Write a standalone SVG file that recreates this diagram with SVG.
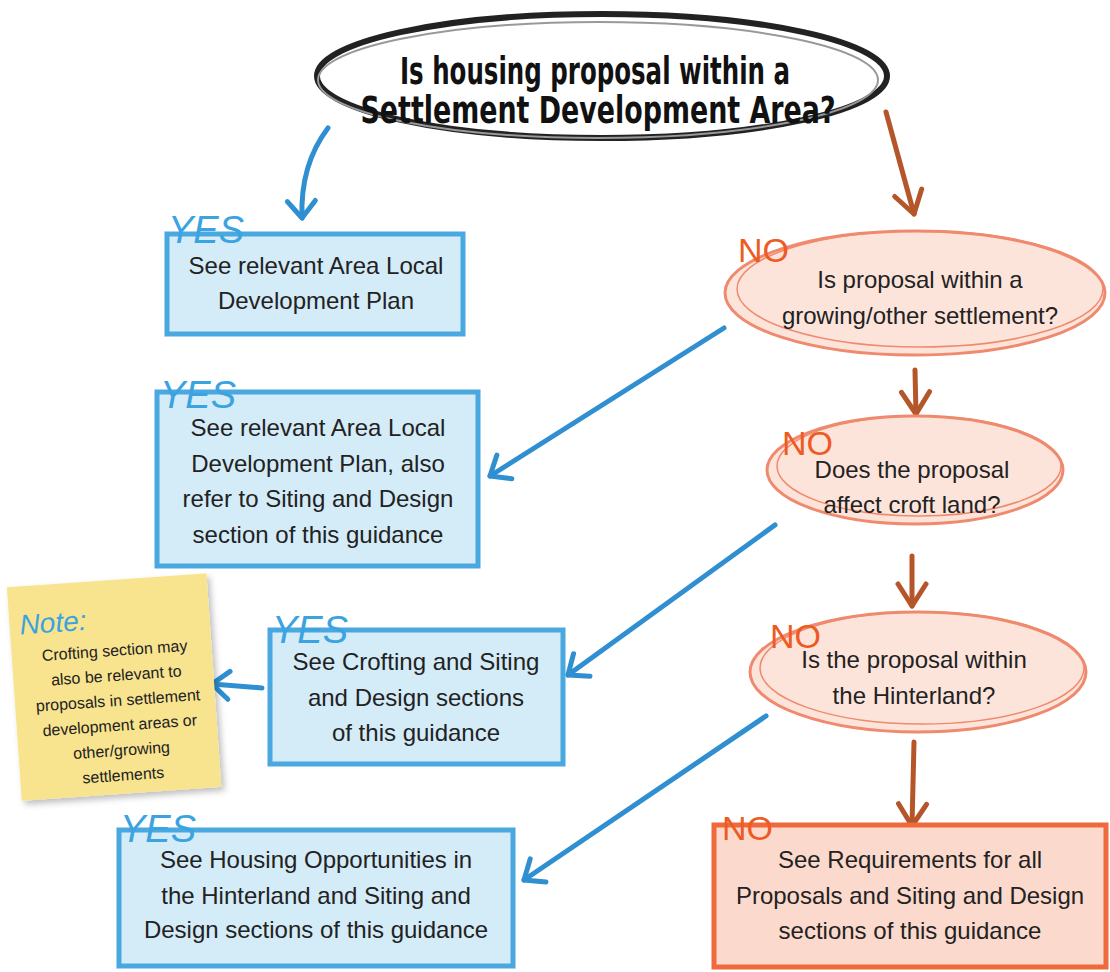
<svg xmlns="http://www.w3.org/2000/svg" width="1110" height="972" viewBox="0 0 1110 972">
<defs>
<style>
.t{font-family:"Liberation Sans",Arial,sans-serif;font-size:24px;fill:#222;text-anchor:middle}
.n{font-family:"Liberation Sans",Arial,sans-serif;font-size:16px;fill:#222;text-anchor:middle}
.title{font-family:"Liberation Sans Narrow","DejaVu Sans Condensed","Liberation Sans",sans-serif;font-size:37px;font-weight:bold;fill:#111;text-anchor:middle}
.yes{font-family:"Liberation Sans Narrow","Liberation Sans",sans-serif;font-size:38px;fill:#3ba3df;font-style:italic}
.no{font-family:"Liberation Sans Narrow","Liberation Sans",sans-serif;font-size:34px;fill:#ee5a24}
.bbox{fill:#d4ebf8;stroke:#4aa8e0;stroke-width:5}
.rbox{fill:#fbd9cc;stroke:#ee6a3c;stroke-width:5}
.ell{fill:#fde4da;stroke:#ef8a6e;stroke-width:3}
.ell2{fill:none;stroke:#ef8a6e;stroke-width:1.5}
.blue{fill:none;stroke:#2f8fd0;stroke-width:5;stroke-linecap:round}
.brown{fill:none;stroke:#b5562a;stroke-width:5;stroke-linecap:round}
</style>
<marker id="ab" viewBox="-25 -20 30 40" refX="0" refY="0" markerWidth="30" markerHeight="40" markerUnits="userSpaceOnUse" orient="auto" overflow="visible">
<path d="M-17,-14 L0,0 L-17,14" fill="none" stroke="#2f8fd0" stroke-width="5" stroke-linecap="round" stroke-linejoin="round"/>
</marker>
<marker id="ar" viewBox="-25 -20 30 40" refX="0" refY="0" markerWidth="30" markerHeight="40" markerUnits="userSpaceOnUse" orient="auto" overflow="visible">
<path d="M-22,-14 L0,0 L-22,14" fill="none" stroke="#b5562a" stroke-width="5" stroke-linecap="round" stroke-linejoin="round"/>
</marker>
<filter id="sh" x="-10%" y="-10%" width="130%" height="130%">
<feDropShadow dx="3" dy="4" stdDeviation="3" flood-color="#000" flood-opacity="0.25"/>
</filter>
</defs>
<rect width="1110" height="972" fill="#fff"/>

<g id="connectors">
<path class="blue" d="M328,128 Q300,165 302,218" marker-end="url(#ab)"/>
<path class="brown" d="M886,112 L914,214" marker-end="url(#ar)"/>
<path class="blue" d="M724,328 L490,476" marker-end="url(#ab)"/>
<path class="brown" d="M915,370 L916,414" marker-end="url(#ar)"/>
<path class="blue" d="M775,525 L568,675" marker-end="url(#ab)"/>
<path class="brown" d="M912,556 L912,606" marker-end="url(#ar)"/>
<path class="blue" d="M262,688 L212,684" marker-end="url(#ab)"/>
<path class="blue" d="M766,716 L524,880" marker-end="url(#ab)"/>
<path class="brown" d="M914,742 L912,826" marker-end="url(#ar)"/>
</g>

<g id="start">
<ellipse cx="602" cy="76" rx="285" ry="62" fill="#fff" stroke="#222" stroke-width="6"/>
<ellipse cx="598" cy="80" rx="280" ry="58" fill="none" stroke="#999" stroke-width="2"/>
<text class="title" x="595" y="84" textLength="390" lengthAdjust="spacingAndGlyphs">Is housing proposal within a</text>
<text class="title" x="598" y="123" textLength="475" lengthAdjust="spacingAndGlyphs">Settlement Development Area?</text>
</g>

<g id="yes1">
<rect class="bbox" x="167" y="234" width="296" height="100"/>
<text class="yes" x="168" y="243">YES</text>
<text class="t" x="316" y="274">See relevant Area Local</text>
<text class="t" x="316" y="309">Development Plan</text>
</g>

<g id="no1">
<ellipse class="ell" cx="915" cy="293" rx="190" ry="62"/>
<ellipse class="ell2" cx="920" cy="289" rx="183" ry="58"/>
<text class="no" x="738" y="262">NO</text>
<text class="t" x="920" y="288">Is proposal within a</text>
<text class="t" x="920" y="324">growing/other settlement?</text>
</g>

<g id="yes2">
<rect class="bbox" x="157" y="392" width="321" height="174"/>
<text class="yes" x="160" y="408">YES</text>
<text class="t" x="318" y="436">See relevant Area Local</text>
<text class="t" x="318" y="472">Development Plan, also</text>
<text class="t" x="318" y="507">refer to Siting and Design</text>
<text class="t" x="318" y="543">section of this guidance</text>
</g>

<g id="no2">
<ellipse class="ell" cx="915" cy="470" rx="148" ry="54"/>
<ellipse class="ell2" cx="919" cy="466" rx="142" ry="50"/>
<text class="no" x="782" y="455">NO</text>
<text class="t" x="912" y="478">Does the proposal</text>
<text class="t" x="912" y="513">affect croft land?</text>
</g>

<g id="note">
<g transform="rotate(-4 115 686)">
<rect x="14" y="580" width="200" height="214" fill="#f8e38e" filter="url(#sh)"/>
<text x="24" y="628" font-family="Liberation Sans Narrow,Liberation Sans,sans-serif" font-size="28" fill="#3ba3df" font-style="italic">Note:</text>
<text class="n" x="117" y="656">Crofting section may</text>
<text class="n" x="117" y="681">also be relevant to</text>
<text class="n" x="117" y="706">proposals in settlement</text>
<text class="n" x="117" y="731">development areas or</text>
<text class="n" x="117" y="756">other/growing</text>
<text class="n" x="117" y="781">settlements</text>
</g>
</g>

<g id="yes3">
<rect class="bbox" x="270" y="630" width="293" height="134"/>
<text class="yes" x="272" y="643">YES</text>
<text class="t" x="416" y="670">See Crofting and Siting</text>
<text class="t" x="416" y="706">and Design sections</text>
<text class="t" x="416" y="741">of this guidance</text>
</g>

<g id="no3">
<ellipse class="ell" cx="918" cy="672" rx="168" ry="60"/>
<ellipse class="ell2" cx="922" cy="668" rx="162" ry="56"/>
<text class="no" x="770" y="648">NO</text>
<text class="t" x="914" y="668">Is the proposal within</text>
<text class="t" x="914" y="704">the Hinterland?</text>
</g>

<g id="yes4">
<rect class="bbox" x="119" y="830" width="394" height="136"/>
<text class="yes" x="120" y="842">YES</text>
<text class="t" x="316" y="868">See Housing Opportunities in</text>
<text class="t" x="316" y="904">the Hinterland and Siting and</text>
<text class="t" x="316" y="938">Design sections of this guidance</text>
</g>

<g id="no4">
<rect class="rbox" x="714" y="825" width="392" height="142"/>
<text class="no" x="722" y="840">NO</text>
<text class="t" x="910" y="868">See Requirements for all</text>
<text class="t" x="910" y="904">Proposals and Siting and Design</text>
<text class="t" x="910" y="939">sections of this guidance</text>
</g>
</svg>
